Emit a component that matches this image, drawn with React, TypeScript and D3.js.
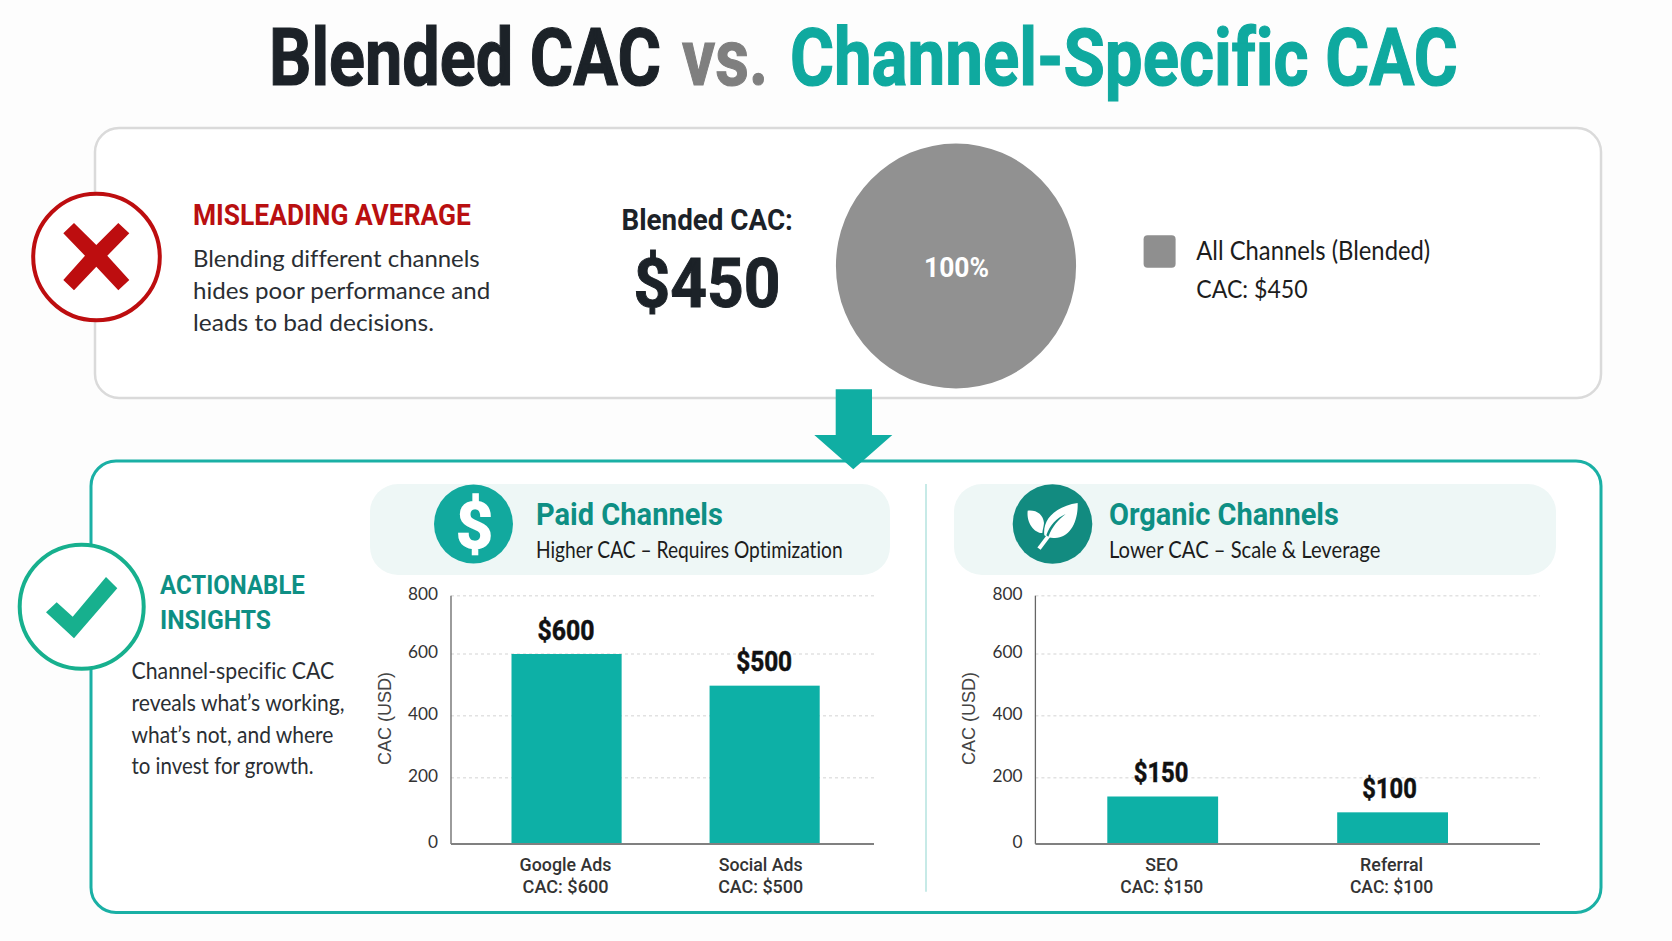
import React from "react";
import * as d3 from "d3";

// ---- data ----
const blendedShare = [100];
const blendedCac = 450;
const yTicks = [0, 200, 400, 600, 800];
const paidCategories = ["Google Ads", "Social Ads"];
const paidValues = [600, 500];
const organicCategories = ["SEO", "Referral"];
const organicValues = [150, 100];

// ---- colours / fonts ----
const TEAL = "#0db0a6";
const TEAL_TEXT = "#0e8f84";
const INK = "#1c2228";
const BODY = "#2a2e33";
const GREY = "#919191";
const RED = "#bd0d0f";
const GREEN = "#17b08e";
const ROBOTO = "Roboto, sans-serif";
const LATO = "Lato, sans-serif";

const measureCtx = typeof document !== "undefined" ? document.createElement("canvas").getContext("2d") : null;
function naturalWidth(s: string, size: number, weight: number, font: string) {
  if (!measureCtx) return 0;
  measureCtx.font = `${weight} ${size}px ${font}`;
  return measureCtx.measureText(s).width;
}

type TP = {
  x: number; y: number; w: number; size: number; fill: string;
  font?: string; weight?: number; anchor?: string; bold?: number; children: string | number;
};
function T({ x, y, w, size, fill, font = LATO, weight = 400, anchor = "start", bold = 0, children }: TP) {
  const s = String(children);
  const n = naturalWidth(s, size, weight, font);
  const sx = n > 0 ? w / n : 1;
  return (
    <text transform={`translate(${x},${y}) scale(${sx},1)`} fontFamily={font} fontSize={size} fontWeight={weight} fill={fill}
      stroke={bold ? fill : "none"} strokeWidth={bold} textAnchor={anchor}>{s}</text>
  );
}

// Tick rows sit at slightly uneven spacing in the picture; bars follow a straight scale.
const tickY = d3.scaleLinear().domain(yTicks).range([844, 777.7, 715.7, 654, 595.7]);
const barY = d3.scaleLinear().domain([0, 600]).range([844, 654]);

type PanelProps = {
  categories: string[]; values: number[];
  axisX: number; rightX: number; bandStart: number; bandEnd: number; gap: number; titleX: number;
  nameW: number[]; cacW: number[]; valW: number[];
  nameDx: number[]; valDx: number[];
};
function BarPanel(p: PanelProps) {
  const x = d3.scaleBand<string>().domain(p.categories).range([p.bandStart, p.bandEnd]).paddingInner(p.gap).paddingOuter(0);
  return (
    <g>
      {yTicks.filter(t => t > 0).map(t => (
        <line key={t} x1={p.axisX} x2={p.rightX} y1={tickY(t)} y2={tickY(t)} stroke="#e2e2e2" strokeWidth={1.5} strokeDasharray="3 3" />
      ))}
      {p.categories.map((c, i) => (
        <rect key={c} x={x(c)} y={barY(p.values[i])} width={x.bandwidth()} height={barY(0) - barY(p.values[i])} fill={TEAL} />
      ))}
      <line x1={p.axisX} x2={p.axisX} y1={595.7} y2={844} stroke="#666" strokeWidth={1.3} />
      <line x1={p.axisX} x2={p.rightX} y1={844} y2={844} stroke="#808080" strokeWidth={2} />
      {yTicks.map(t => (
        <T key={t} x={p.axisX - 13} y={tickY(t) + 4} w={t === 0 ? 10 : 30} size={18} fill="#333" anchor="end">{t}</T>
      ))}
      <text transform={`translate(${p.titleX},718.5) rotate(-90)`} textAnchor="middle" fontFamily="Liberation Sans, sans-serif" fontSize={18} fill="#444">CAC (USD)</text>
      {p.categories.map((c, i) => {
        const cx = (x(c) as number) + x.bandwidth() / 2;
        return (
          <g key={c}>
            <T x={cx + p.valDx[i]} y={barY(p.values[i]) - 14.5} w={p.valW[i]} size={27} weight={700} fill="#111" font={ROBOTO} bold={0.5} anchor="middle">{`$${p.values[i]}`}</T>
            <T x={cx + p.nameDx[i]} y={870.5} w={p.nameW[i]} size={18} weight={500} fill="#333" font={ROBOTO} anchor="middle">{c}</T>
            <T x={cx + p.nameDx[i]} y={892.7} w={p.cacW[i]} size={18} weight={500} fill="#333" font={ROBOTO} anchor="middle">{`CAC: $${p.values[i]}`}</T>
          </g>
        );
      })}
    </g>
  );
}

function Pie() {
  const slices = d3.pie<number>().sort(null)(blendedShare);
  const arc = d3.arc<d3.PieArcDatum<number>>().innerRadius(0).outerRadius(121);
  return (
    <g transform="translate(956,266) scale(0.992,1.012)">
      {slices.map((s, i) => <path key={i} d={arc(s) as string} fill={GREY} />)}
    </g>
  );
}

export default function App() {
  return (
    <svg width={1672} height={941} viewBox="0 0 1672 941" style={{ position: "absolute", left: 0, top: 0, display: "block", fontVariantLigatures: "none" }}>
      <rect width={1672} height={941} fill="#fdfdfd" />

      {/* title */}
      <T x={269} y={85} w={392} size={80} weight={700} fill={INK} font={ROBOTO} bold={1.2}>Blended CAC</T>
      <T x={682} y={85} w={86} size={80} weight={700} fill="#7f7f7f" font={ROBOTO} bold={1.2}>vs.</T>
      <T x={790} y={85} w={667} size={80} weight={700} fill="#0fa99f" font={ROBOTO} bold={1.2}>Channel-Specific CAC</T>

      {/* top box */}
      <rect x={95} y={128} width={1506} height={270} rx={24} fill="#fff" stroke="#dadada" strokeWidth={2.5} />
      <circle cx={96.5} cy={257} r={63.3} fill="#fff" stroke={RED} strokeWidth={4} />
      <path d="M63.3 233.3L74 223L96.3 245L118.3 223L129.3 233.3L107.3 255.7L129.3 280L118.3 290.3L96.3 266.7L74 290.3L63.3 280L85 255.7Z" fill={RED} />
      <T x={193} y={225} w={278} size={29} weight={700} fill="#b90f10" font={ROBOTO}>MISLEADING AVERAGE</T>
      <T x={193} y={266.5} w={286} size={23.5} fill={BODY}>Blending different channels</T>
      <T x={193} y={299} w={298} size={23.5} fill={BODY}>hides poor performance and</T>
      <T x={193} y={331.2} w={241} size={23.5} fill={BODY}>leads to bad decisions.</T>
      <T x={621.5} y={229.8} w={171.5} size={30} weight={700} fill={INK} font={ROBOTO}>Blended CAC:</T>
      <T x={633.5} y={307} w={147} size={68} weight={700} fill={INK} font={ROBOTO} bold={1}>{`$${blendedCac}`}</T>
      <Pie />
      <T x={924} y={276.5} w={65} size={27} weight={700} fill="#fff" font={ROBOTO}>{`${blendedShare[0]}%`}</T>
      <rect x={1143.6} y={235.3} width={32} height={32.4} rx={4} fill="#8f8f8f" />
      <T x={1196.3} y={259.8} w={234} size={26} fill="#1c1c1c">All Channels (Blended)</T>
      <T x={1196.3} y={298} w={111.4} size={26} fill="#1c1c1c">{`CAC: $${blendedCac}`}</T>

      {/* bottom box */}
      <rect x={91} y={461} width={1510} height={451.5} rx={25} fill="#fff" stroke="#1ab0a5" strokeWidth={3} />
      <path d="M835.7 389.3H872V435H892.3L853.3 469.3L814.3 435H835.7Z" fill="#10aea3" />
      <circle cx={81.7} cy={606.7} r={62} fill="#fff" stroke={GREEN} strokeWidth={4} />
      <path d="M46 612.3L56.7 602.3L72.7 616.7L106 577L117.3 588.3L74 638.3Z" fill={GREEN} />
      <T x={160} y={594} w={145} size={26} weight={700} fill={TEAL_TEXT} font={ROBOTO}>ACTIONABLE</T>
      <T x={160} y={629.3} w={111} size={26} weight={700} fill={TEAL_TEXT} font={ROBOTO}>INSIGHTS</T>
      <T x={131.5} y={678.5} w={202.5} size={23.5} fill={BODY}>Channel-specific CAC</T>
      <T x={131.5} y={711} w={214} size={23.5} fill={BODY}>reveals what’s working,</T>
      <T x={131.5} y={742.5} w={202.5} size={23.5} fill={BODY}>what’s not, and where</T>
      <T x={131.5} y={773.8} w={182.5} size={23.5} fill={BODY}>to invest for growth.</T>

      {/* pills */}
      <rect x={370} y={484} width={520} height={91} rx={28} fill="#eef7f6" />
      <circle cx={473.5} cy={524} r={39.5} fill="#12a99e" />
      <T x={474.5} y={548} w={37} size={64} weight={700} fill="#fff" font={ROBOTO} bold={1.5} anchor="middle">$</T>
      <T x={536} y={524.8} w={187} size={32} weight={700} fill={TEAL_TEXT} font={ROBOTO}>Paid Channels</T>
      <T x={536} y={557.5} w={308} size={23} fill="#1c1c1c">Higher CAC – Requires Optimization</T>

      <line x1={926} x2={926} y1={484} y2={891.7} stroke="#b5e3df" strokeWidth={1.5} />

      <rect x={954} y={484} width={602} height={91} rx={28} fill="#eef7f6" />
      <circle cx={1052.5} cy={524} r={39.8} fill="#128b80" />
      <g transform="translate(1005,478) scale(0.3333)">
        <path d="M118 172C112 125 150 85 218 75C220 130 195 180 150 180C138 181 128 178 118 172Z" fill="#fff" />
        <path d="M68 98C95 95 115 110 117 135C116 146 113 155 112 165C88 165 64 135 68 98Z" fill="#fff" />
        <path d="M132 172L102 212" stroke="#fff" strokeWidth={12} fill="none" />
        <path d="M124 172C135 140 155 120 182 108C160 125 142 145 130 176Z" fill="#128b80" />
      </g>
      <T x={1109} y={524.8} w={230} size={32} weight={700} fill={TEAL_TEXT} font={ROBOTO}>Organic Channels</T>
      <T x={1109} y={557.5} w={272} size={23} fill="#1c1c1c">Lower CAC – Scale &amp; Leverage</T>

      <BarPanel categories={paidCategories} values={paidValues} axisX={451} rightX={874} bandStart={511.5} bandEnd={819.7} gap={0.444}
        titleX={390.5} nameW={[92, 84]} cacW={[86, 85]} valW={[57, 56]} nameDx={[-1, -4]} valDx={[-0.5, -0.5]} />
      <BarPanel categories={organicCategories} values={organicValues} axisX={1035.4} rightX={1540} bandStart={1107.3} bandEnd={1448} gap={0.518}
        titleX={974.5} nameW={[33, 63]} cacW={[83, 83.5]} valW={[54.6, 54.5]} nameDx={[-1, -1]} valDx={[-1.6, -3]} />
    </svg>
  );
}
